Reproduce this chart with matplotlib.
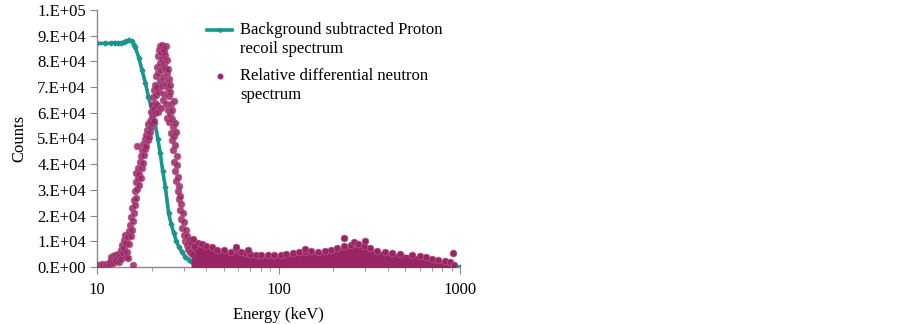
import numpy as np
import matplotlib
matplotlib.use('Agg')
import matplotlib.pyplot as plt
from matplotlib.ticker import FuncFormatter, MultipleLocator
from matplotlib.offsetbox import HPacker

plt.rcParams['font.family'] = ['Liberation Serif', 'DejaVu Serif']

# proton recoil spectrum (line)
line_e = [10, 11, 12, 12.5, 13, 13.5, 14, 14.5, 15, 15.5, 16, 16.2, 17, 17.7, 18.5,
          19.2, 20, 20.9, 21.6, 22.3, 23, 23.8, 24.8, 25.6, 26.5, 27.3, 28.2, 29.5,
          30.7, 32, 33.5, 35, 37, 40, 45, 60, 100, 200, 400, 700, 1000]
line_c = [87000, 87000, 87100, 87300, 87000, 87200, 87400, 87800, 88300, 88000, 86500,
          85700, 81500, 76600, 71500, 66300, 61500, 56000, 50000, 44300, 37500, 31200,
          21000, 16800, 13200, 10300, 7900, 5700, 4000, 2900, 2000, 1200, 600, 200, 0,
          0, 0, 0, 0, 0, 0]

# relative differential neutron spectrum - peak region
pk_e = [10.0, 10.2, 10.4, 10.6, 10.8, 11.0, 11.2, 11.4, 11.6, 11.8,
        11.9, 12.0, 12.2, 12.3, 12.5, 12.6, 12.8, 12.9, 13.1, 13.2, 13.4,
        13.5, 13.6, 13.8, 13.9, 14.0, 14.1, 14.3, 14.4, 14.5, 14.6, 14.8, 14.9, 15.0,
        15.1, 15.2, 15.3, 15.4, 15.5, 15.6, 15.7, 15.8, 15.9, 16.0,
        16.1, 16.2, 16.3, 16.4, 16.5, 16.6, 16.7, 16.8, 16.9, 17.0,
        17.1, 17.2, 17.4, 17.5, 17.6, 17.7, 17.9, 18.0, 18.2, 18.3, 18.5,
        18.6, 18.7, 18.9, 19.0, 19.2, 19.3, 19.5, 19.6, 19.8, 19.9,
        20.0, 20.1, 20.2, 20.4, 20.5, 20.6, 20.7, 20.8, 20.9, 21.0,
        21.1, 21.2, 21.3, 21.4, 21.5, 21.6, 21.7, 21.8, 21.9, 22.0, 22.1, 22.2, 22.3, 22.4,
        22.5, 22.6, 22.7, 22.8, 22.9, 23.0, 23.1, 23.2, 23.3, 23.4, 23.5, 23.6, 23.8,
        23.9, 24.0, 24.1, 24.2, 24.3, 24.4,
        24.5, 24.6, 24.7, 24.8, 24.9, 25.0, 25.1, 25.3, 25.4, 25.5, 25.6, 25.8, 25.9, 26.0,
        26.1, 26.2, 26.4, 26.5, 26.6, 26.8, 26.9, 27.0, 27.2, 27.3, 27.5, 27.7, 27.8, 28.0,
        28.2, 28.4, 28.6, 28.8, 29.0, 29.2, 29.5, 29.7, 30.0, 30.3, 30.6, 30.9, 31.2, 31.5,
        31.8, 32.1, 32.5, 32.9, 33.3, 33.7, 34.2]
pk_c = [600, 900, 400, 1100, 700, 500, 1300, 800, 1600, 1000,
        3800, 2600, 4200, 1500, 3200, 4600, 2200, 3900, 5200, 1800, 4400,
        6800, 3000, 8500, 5500, 10500, 7200, 12500, 4000, 9200, 6000, 11500, 3500, 14000,
        9000, 16500, 12000, 19500, 14500, 23000, 700, 18000, 26000, 21000,
        29500, 24000, 33000, 27000, 36500, 47000, 30500, 34500, 38500, 32000,
        36000, 41000, 34500, 43000, 38500, 45500, 40500, 48000, 43500, 50000, 46000,
        51500, 47000, 53500, 49500, 55500, 50500, 57000, 52500, 54500, 60500,
        56000, 63000, 58500, 66000, 61500, 69000, 57000, 64000, 71000, 60000,
        67000, 74500, 63000, 78000, 70000, 82000, 60500, 75500, 84500, 68000, 79500, 86000, 72500, 62000,
        83500, 76500, 86500, 70500, 81000, 65000, 85000, 74000, 79000, 84000, 67500, 77500, 82500,
        71500, 86000, 63500, 75500, 80500, 58000,
        69500, 77000, 61000, 73000, 56500, 66500, 71000, 59500, 68000, 52000, 63500, 57500, 49500, 61000,
        54500, 45500, 64500, 51000, 41000, 56000, 37500, 47500, 52500, 33500, 43000, 39500, 29500, 35000,
        26500, 31500, 22000, 27500, 18500, 24500, 15000, 21000, 12500, 17500, 10000, 14500, 8500, 12000,
        7000, 10500, 6000, 9500, 5000, 11000, 8000]

# dense tail: upper edge of the cloud
tail_e = [33, 34, 36, 38, 40, 43, 46, 50, 55, 58, 62, 66, 70, 75, 80, 87, 95, 103,
          110, 120, 130, 140, 151, 165, 180, 195, 210, 230, 250, 270, 296, 320, 350,
          385, 420, 470, 545, 600, 650, 700, 760, 830, 880, 925]
tail_c = [10000, 10500, 9500, 8800, 8300, 7800, 6800, 6500, 6000, 7000, 5800,
          5500, 5000, 4800, 4600, 4500, 4500, 4700, 5200, 5600, 6000, 5700, 6300, 5800,
          6200, 6600, 7200, 8000, 8500, 8800, 8200, 7400, 6400, 5900, 5500, 5200, 4700,
          4200, 3800, 3300, 2800, 2400, 1800, 800]

# isolated points above the tail
out_e = [58, 68, 140, 231, 261, 275, 299, 913]
out_c = [7600, 6600, 6900, 11300, 9600, 8900, 10000, 5600]

teal = '#16968f'
mag = '#992462'
edge = '#b45a8d'

fig = plt.figure(figsize=(9.02, 3.24), dpi=100)
ax = fig.add_axes([97/902, 1-267/324, 363/902, 257/324])

ax.plot(line_e, line_c, color=teal, lw=2.6, marker='D', ms=2.5, zorder=2,
        label='Background subtracted Proton\nrecoil spectrum')
ax.fill_between(tail_e, -600, tail_c, color=mag, lw=0, zorder=3)
ax.scatter(tail_e, tail_c, s=24, color=mag, edgecolors=edge, linewidths=0.5, zorder=3)
ax.scatter(out_e, out_c, s=24, color=mag, edgecolors=edge, linewidths=0.5, zorder=3)
ax.scatter(pk_e, pk_c, s=24, color=mag, edgecolors=edge, linewidths=0.5, alpha=0.85,
           zorder=3, label='Relative differential neutron\nspectrum')

ax.set_xscale('log')
ax.set_xlim(10, 1000)
ax.set_ylim(0, 100000)
ax.yaxis.set_major_locator(MultipleLocator(10000))


def sci(v, pos):
    if abs(v) < 1:
        return '0.E+00'
    if v < 0:
        return ''
    exp = int(np.floor(np.log10(v)))
    return '%d.E+%02d' % (round(v / 10**exp), exp)


ax.yaxis.set_major_formatter(FuncFormatter(sci))
ax.xaxis.set_major_formatter(FuncFormatter(lambda v, p: '%d' % v))

for s in ['top', 'right']:
    ax.spines[s].set_visible(False)
for s in ['left', 'bottom']:
    ax.spines[s].set_color('#8a8a8a')
    ax.spines[s].set_linewidth(1.0)
ax.tick_params(axis='both', which='major', length=5, color='#8a8a8a', labelsize=12, pad=3)
ax.tick_params(axis='x', which='minor', length=3, color='#8a8a8a')
ax.tick_params(axis='x', which='major', pad=6)

ax.set_xlabel('Energy (keV)', fontsize=12, labelpad=6)
ax.set_ylabel('Counts', fontsize=12, labelpad=7)

h, l = ax.get_legend_handles_labels()
leg = fig.legend(h, l, loc='upper left', bbox_to_anchor=(199/902, 1-14/324),
                 frameon=False, fontsize=12, handlelength=1.5, handletextpad=0.45,
                 labelspacing=0.7, handleheight=1.3, borderpad=0, markerscale=0.8)
for lh in leg.legend_handles:
    lh.set_alpha(1)
for hp in leg.findobj(HPacker):
    hp.align = 'top'

fig.savefig('out.png', dpi=100)
